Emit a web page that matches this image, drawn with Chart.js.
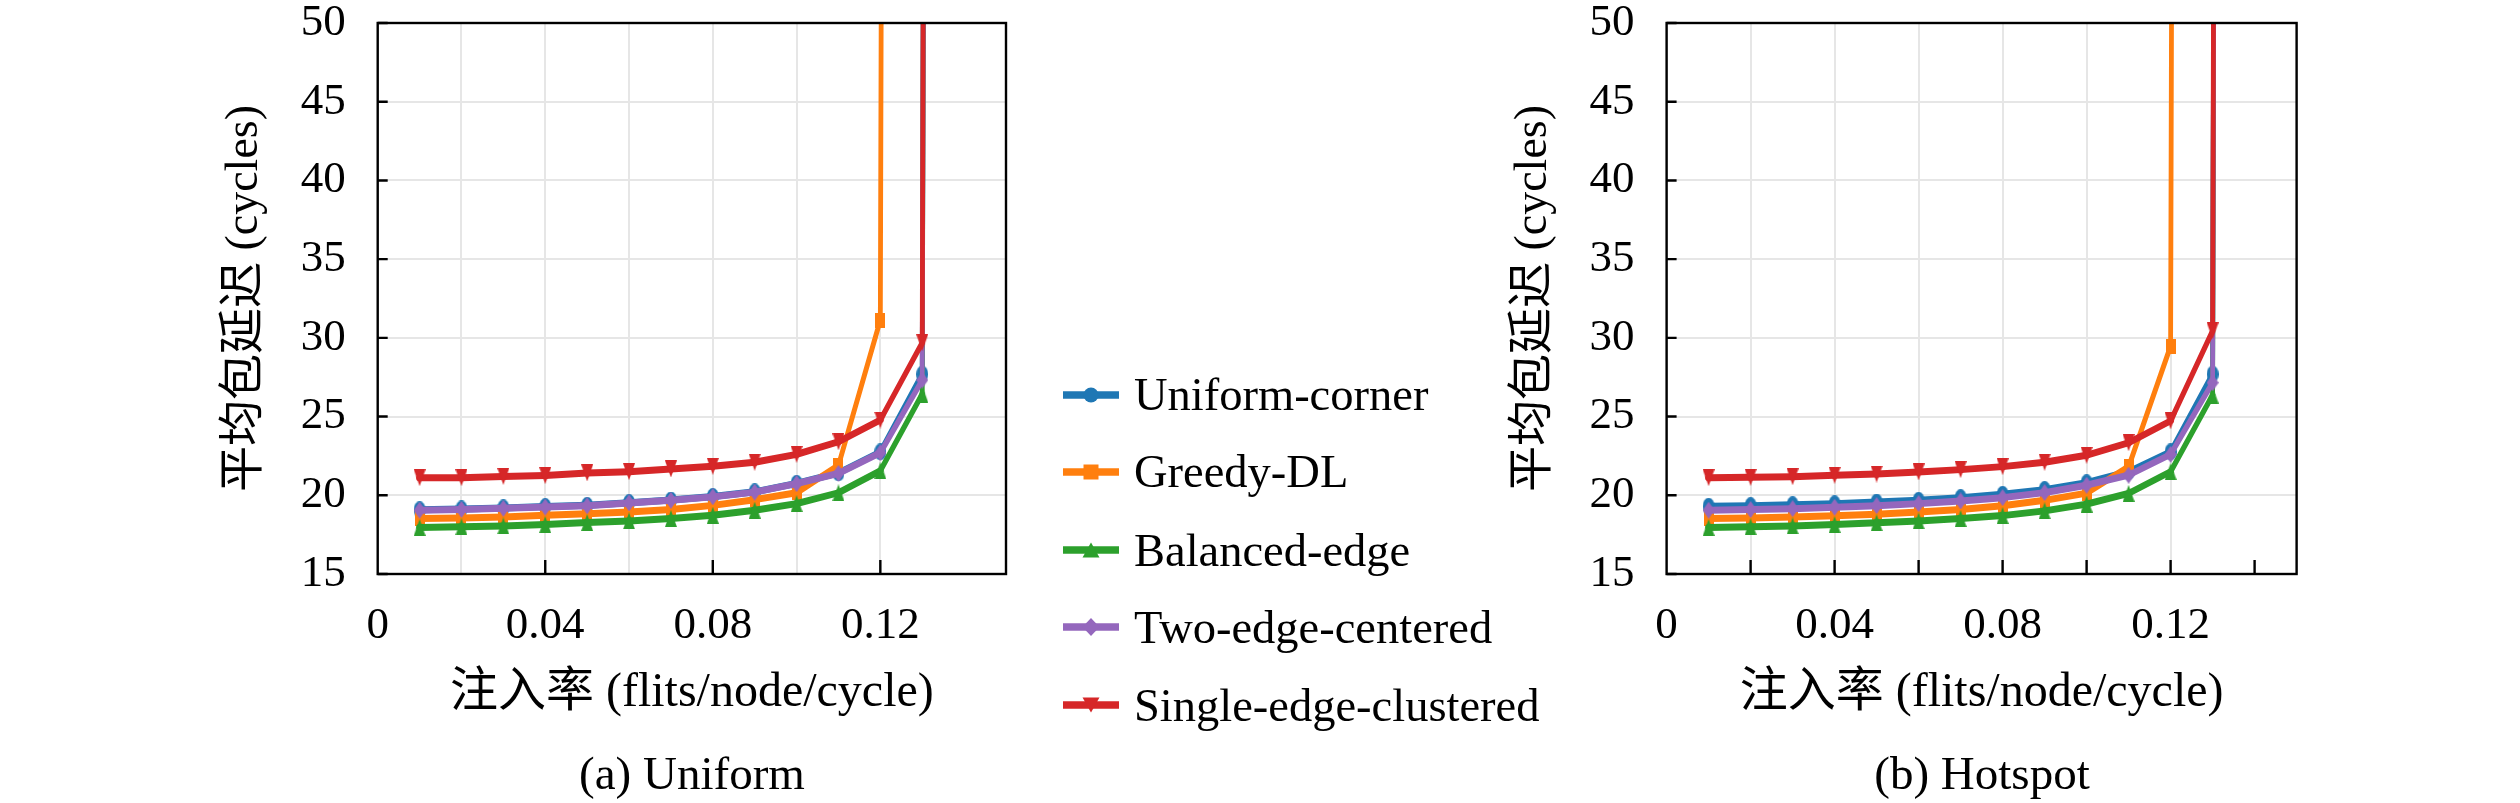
<!DOCTYPE html>
<html>
<head>
<meta charset="utf-8">
<script src="https://cdn.jsdelivr.net/npm/chart.js@4.4.1/dist/chart.umd.min.js"></script>
<style>
  body { margin: 0; background: #fff; width: 2520px; height: 803px; position: relative; overflow: hidden;
         font-family: "Liberation Serif", "Noto Sans CJK SC", serif; color: #000; }
  canvas.plot { position: absolute; top: 0; }
  .caption { position: absolute; top: 746px; font-size: 47px; line-height: 54px; transform: translateX(-50%); white-space: nowrap; }
  .legend-row { position: absolute; left: 1061px; height: 54px; display: flex; align-items: center; font-size: 46.5px; white-space: nowrap; }
  .legend-row canvas { margin-right: 13px; }
</style>
</head>
<body>
<canvas id="uniformChart" class="plot" width="1040" height="803" style="left:0px"></canvas>
<canvas id="hotspotChart" class="plot" width="1220" height="803" style="left:1300px"></canvas>
<div id="legend"></div>
<div class="caption" style="left:692px">(a) Uniform</div>
<div class="caption" style="left:1982px">(b) Hotspot</div>

<script>
// injection rates (flits/node/cycle); the last point is far above the axis (saturation)
const injectionRates = [0.01, 0.02, 0.03, 0.04, 0.05, 0.06, 0.07, 0.08, 0.09, 0.10, 0.11, 0.12, 0.13, 0.14];

const seriesNames = ['Uniform-corner', 'Greedy-DL', 'Balanced-edge', 'Two-edge-centered', 'Single-edge-clustered'];

// (a) Uniform
const uniCorner   = [19.08, 19.13, 19.20, 19.28, 19.36, 19.53, 19.70, 19.92, 20.22, 20.76, 21.42, 22.76, 27.70, 1000];
const uniGreedy   = [18.52, 18.55, 18.62, 18.73, 18.83, 18.94, 19.10, 19.36, 19.72, 20.16, 21.90, 31.13, 1000, null];
const uniBalanced = [17.95, 18.00, 18.05, 18.14, 18.27, 18.37, 18.52, 18.73, 19.05, 19.47, 20.16, 21.56, 26.43, 1000];
const uniTwoEdge  = [19.05, 19.10, 19.17, 19.25, 19.33, 19.51, 19.68, 19.90, 20.20, 20.74, 21.39, 22.70, 27.32, 1000];
const uniSingle   = [21.12, 21.12, 21.20, 21.25, 21.42, 21.50, 21.67, 21.84, 22.10, 22.60, 23.40, 24.78, 29.69, 1000];

// (b) Hotspot
const hotCorner   = [19.30, 19.34, 19.40, 19.46, 19.57, 19.68, 19.85, 20.06, 20.36, 20.80, 21.50, 22.76, 27.70, 1000];
const hotGreedy   = [18.52, 18.55, 18.62, 18.70, 18.80, 18.94, 19.10, 19.34, 19.68, 20.14, 21.81, 29.48, 1000, null];
const hotBalanced = [17.95, 18.00, 18.05, 18.14, 18.25, 18.37, 18.52, 18.71, 19.01, 19.44, 20.12, 21.50, 26.37, 1000];
const hotTwoEdge  = [19.05, 19.09, 19.15, 19.24, 19.34, 19.47, 19.64, 19.85, 20.17, 20.64, 21.28, 22.60, 27.15, 1000];
const hotSingle   = [21.12, 21.14, 21.18, 21.27, 21.35, 21.48, 21.63, 21.82, 22.10, 22.54, 23.34, 24.73, 30.45, 1000];

// axis ticks
const xTickValues = [0, 0.04, 0.08, 0.12];
const xTickLabels = ['0', '0.04', '0.08', '0.12'];
const uniXMarks = [0.04, 0.08, 0.12];
const hotXMarks = [0.02, 0.04, 0.06, 0.08, 0.10, 0.12, 0.14];

const colors = ['#1f77b4', '#ff7f0e', '#2ca02c', '#9467bd', '#d62728'];
const shapes = ['circle', 'square', 'triUp', 'diamond', 'triDown'];

const FONT = '"Liberation Serif", "Noto Sans CJK SC", serif';

// draws one marker shape centred on (cx, cy), w x h
function shapePath(ctx, shape, cx, cy, w, h) {
  const l = cx - w / 2, r = cx + w / 2, t = cy - h / 2, b = cy + h / 2;
  ctx.beginPath();
  if (shape === 'circle') ctx.ellipse(cx, cy, w / 2, h / 2, 0, 0, Math.PI * 2);
  else if (shape === 'square') ctx.rect(l, t, w, h);
  else if (shape === 'triUp') { ctx.moveTo(cx, t); ctx.lineTo(r, b); ctx.lineTo(l, b); }
  else if (shape === 'triDown') { ctx.moveTo(l, t); ctx.lineTo(r, t); ctx.lineTo(cx, b); }
  else if (shape === 'diamond') { ctx.moveTo(cx, t); ctx.lineTo(r, cy); ctx.lineTo(cx, b); ctx.lineTo(l, cy); }
  ctx.closePath();
}

// marker images for the plots (slightly tall, as in the original figure)
function markerImage(shape, color) {
  const w = shape === 'square' ? 10 : 12, h = shape === 'square' ? 15 : 17;
  const c = document.createElement('canvas');
  c.width = w; c.height = h;
  const ctx = c.getContext('2d');
  ctx.fillStyle = color;
  shapePath(ctx, shape, w / 2, h / 2, w, h);
  ctx.fill();
  return c;
}

// thick when flat, thinner when steep (matches the stretched original)
function segWidth(ctx) {
  const dx = ctx.p1.x - ctx.p0.x, dy = ctx.p1.y - ctx.p0.y;
  const len = Math.hypot(dx, dy) || 1;
  const c = dx / len, s = dy / len;
  return Math.sqrt((7 * c) ** 2 + (4.8 * s) ** 2);
}

// inward tick marks + black frame
const frameTicks = {
  id: 'frameTicks',
  afterDatasetsDraw(chart, args, opts) {
    const {ctx, chartArea: a} = chart;
    const x = chart.scales.x, y = chart.scales.y;
    ctx.save();
    ctx.strokeStyle = '#000';
    ctx.lineWidth = 2.4;
    ctx.beginPath();
    opts.xMarks.forEach(v => {
      const px = x.getPixelForValue(v);
      ctx.moveTo(px, a.bottom);
      ctx.lineTo(px, a.bottom - 14);
    });
    y.ticks.forEach(t => {
      const py = y.getPixelForValue(t.value);
      ctx.moveTo(a.left, py);
      ctx.lineTo(a.left + 10, py);
    });
    ctx.stroke();
    ctx.strokeRect(a.left, a.top, a.right - a.left, a.bottom - a.top);
    ctx.restore();
  }
};

function makePlot(id, series, xMarks, padLeft, padRight) {
  const datasets = series.map((vals, i) => ({
    label: seriesNames[i],
    data: injectionRates.map((r, k) => ({x: r, y: vals[k]})),
    borderColor: colors[i],
    backgroundColor: colors[i],
    borderWidth: 7,
    borderCapStyle: 'round',
    borderJoinStyle: 'round',
    segment: {borderWidth: segWidth},
    pointStyle: markerImage(shapes[i], colors[i]),
    pointRadius: 7,
    pointBorderWidth: 0,
    tension: 0,
    order: series.length - i,
    clip: 0
  }));

  return new Chart(document.getElementById(id), {
    type: 'line',
    data: {datasets},
    options: {
      responsive: false,
      animation: false,
      events: [],
      layout: {padding: {left: padLeft, right: padRight, top: 23, bottom: 81}},
      plugins: {
        legend: {display: false},
        tooltip: {enabled: false},
        frameTicks: {xMarks}
      },
      scales: {
        x: {
          type: 'linear',
          min: 0,
          max: 0.15,
          afterFit: s => { s.height = 148; s.paddingLeft = 0; s.paddingRight = 0; },
          grid: {color: '#e6e6e6', lineWidth: 2, drawTicks: false},
          border: {display: false},
          ticks: {
            stepSize: 0.02,
            padding: 30,
            color: '#000',
            font: {family: FONT, size: 45, lineHeight: 1},
            maxRotation: 0,
            autoSkip: false,
            callback: v => {
              const k = xTickValues.findIndex(t => Math.abs(t - v) < 1e-6);
              return k < 0 ? '' : xTickLabels[k];
            }
          },
          title: {
            display: true,
            text: '注入率 (flits/node/cycle)',
            color: '#000',
            padding: 0,
            font: {family: FONT, size: 48, lineHeight: 1.2}
          }
        },
        y: {
          min: 15,
          max: 50,
          afterFit: s => { s.width = 160; s.paddingTop = 0; s.paddingBottom = 0; },
          grid: {color: '#e6e6e6', lineWidth: 2, drawTicks: false},
          border: {display: false},
          ticks: {
            stepSize: 5,
            padding: 32,
            color: '#000',
            font: {family: FONT, size: 45, lineHeight: 1}
          },
          title: {
            display: true,
            text: '平均包延迟 (cycles)',
            color: '#000',
            padding: 0,
            font: {family: FONT, size: 46, lineHeight: 1.2}
          }
        }
      }
    },
    plugins: [frameTicks]
  });
}

makePlot('uniformChart', [uniCorner, uniGreedy, uniBalanced, uniTwoEdge, uniSingle], uniXMarks, 217.7, 34);
makePlot('hotspotChart', [hotCorner, hotGreedy, hotBalanced, hotTwoEdge, hotSingle], hotXMarks, 206.6, 223.4);

// legend between the two panels
const legendRowsY = [394.6, 471.8, 550, 627, 705];
const legend = document.getElementById('legend');
seriesNames.forEach((name, i) => {
  const row = document.createElement('div');
  row.className = 'legend-row';
  row.style.top = (legendRowsY[i] - 27) + 'px';
  const c = document.createElement('canvas');
  c.width = 60; c.height = 30;
  const ctx = c.getContext('2d');
  ctx.strokeStyle = colors[i];
  ctx.lineWidth = 7.5;
  ctx.beginPath(); ctx.moveTo(2, 15); ctx.lineTo(58, 15); ctx.stroke();
  ctx.fillStyle = colors[i];
  const big = shapes[i] === 'circle' || shapes[i] === 'square' ? 15 : 17;
  shapePath(ctx, shapes[i], 30, 15, shapes[i] === 'square' ? 15 : big, shapes[i] === 'diamond' ? 18 : 15);
  ctx.fill();
  row.appendChild(c);
  const label = document.createElement('span');
  label.textContent = name;
  row.appendChild(label);
  legend.appendChild(row);
});
</script>
</body>
</html>
